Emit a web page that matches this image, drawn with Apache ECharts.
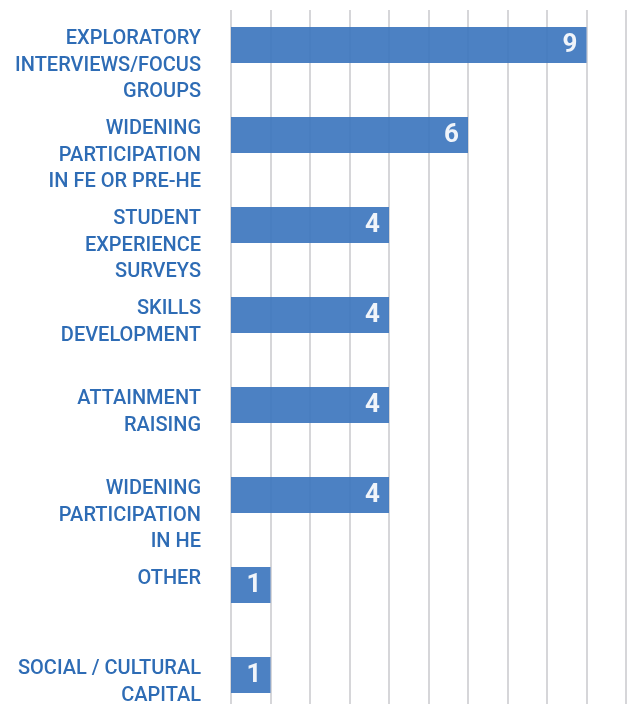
<!DOCTYPE html>
<html>
<head>
<meta charset="utf-8">
<script src="https://cdn.jsdelivr.net/npm/echarts@6/dist/echarts.min.js"></script>
<style>
  html, body { margin: 0; padding: 0; background: #fff; }
  #chart { width: 630px; height: 704px; }
</style>
</head>
<body>
<div id="chart"></div>
<script>
// categories, top to bottom
var categories = [
    'EXPLORATORY\nINTERVIEWS/FOCUS\nGROUPS',
    'WIDENING\nPARTICIPATION\nIN FE OR PRE-HE',
    'STUDENT\nEXPERIENCE\nSURVEYS',
    'SKILLS\nDEVELOPMENT',
    'ATTAINMENT\nRAISING',
    'WIDENING\nPARTICIPATION\nIN HE',
    'OTHER',
    'SOCIAL / CULTURAL\nCAPITAL'
];
var counts = [9, 6, 4, 4, 4, 4, 1, 1];

var chart = echarts.init(document.getElementById('chart'));

var option = {
    animation: false,
    grid: {
        left: 231,
        top: 0,
        right: 4,
        bottom: -16,
        outerBoundsMode: 'none'
    },
    graphic: [{
        // gridlines start a little below the top edge
        type: 'rect',
        shape: { x: 220, y: 0, width: 410, height: 10 },
        style: { fill: '#fff' },
        z: 100
    }],
    xAxis: {
        type: 'value',
        min: 0,
        max: 10,
        interval: 1,
        axisLabel: { show: false },
        axisTick: { show: false },
        axisLine: { show: false },
        splitLine: {
            lineStyle: { color: '#c8c8cd', width: 1.5 }
        }
    },
    yAxis: {
        type: 'category',
        inverse: true,
        data: categories,
        axisLine: { show: false },
        axisTick: { show: false },
        axisLabel: {
            margin: 30,
            color: '#2e6cb5',
            fontFamily: 'Roboto',
            fontWeight: 500,
            fontSize: 20,
            lineHeight: 26.5,
            align: 'right',
            verticalAlign: 'top',
            padding: [-19, 0, 0, 0]
        }
    },
    series: [{
        type: 'bar',
        data: counts,
        barWidth: 36,
        itemStyle: {
            color: '#3d76be',
            opacity: 0.92
        },
        label: {
            show: true,
            position: 'insideRight',
            distance: 9,
            color: '#fff',
            fontFamily: 'Roboto',
            fontWeight: 'bold',
            fontSize: 26
        }
    }]
};

chart.setOption(option);
</script>
</body>
</html>
